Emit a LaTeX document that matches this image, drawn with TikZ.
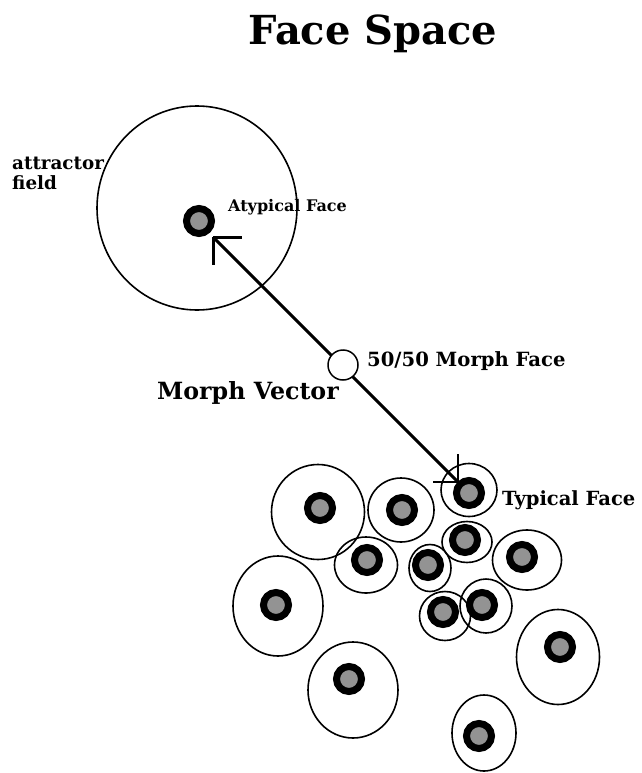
\documentclass[tikz,border=0pt]{standalone}
\usepackage{fontspec}
\setmainfont{DejaVu Serif}
\usetikzlibrary{shapes.geometric}
\begin{document}
\begin{tikzpicture}[x=1pt,y=-1pt,
  field/.style={draw, ellipse, line width=1.6pt, inner sep=0pt},
  facedot/.style={circle, draw=black, line width=7pt, fill=gray!85, minimum size=25pt, inner sep=0pt},
  shaft/.style={line width=3pt},
  lbl/.style={font=\bfseries, inner sep=0pt, anchor=west}]
\useasboundingbox (0,0) rectangle (641,773);
% title
\node[font=\fontsize{40}{48}\selectfont\bfseries, inner sep=0pt] (title) at (373,34) {Face Space};
% attractor field
\node[field, minimum width=200pt, minimum height=204pt] (attr) at (197,208) {};
\node[lbl, font=\fontsize{18.3}{20}\selectfont\bfseries, align=left, anchor=north west] (attrlbl) at (12,157) {attractor\\field};
% atypical face
\node[facedot] (atyp) at (199,221) {};
\node[lbl, font=\fontsize{16}{19}\selectfont\bfseries] (atyplbl) at (228,207) {Atypical Face};
% cluster fields
\node[field, minimum width=93pt, minimum height=95pt] (f1) at (318,512) {};
\node[field, minimum width=66pt, minimum height=64pt] (f2) at (401,510) {};
\node[field, minimum width=56pt, minimum height=53pt] (f3) at (469,490) {};
\node[field, minimum width=63pt, minimum height=56pt] (f4) at (366,565) {};
\node[field, minimum width=50pt, minimum height=41pt] (f5) at (467,542) {};
\node[field, minimum width=42pt, minimum height=47pt] (f6) at (430,568) {};
\node[field, minimum width=69pt, minimum height=60pt] (f7) at (527,560) {};
\node[field, minimum width=90pt, minimum height=100pt] (f8) at (278,606) {};
\node[field, minimum width=51pt, minimum height=49pt] (f9) at (445,616) {};
\node[field, minimum width=52pt, minimum height=54pt] (f10) at (486,606) {};
\node[field, minimum width=90pt, minimum height=96pt] (f11) at (353,690) {};
\node[field, minimum width=83pt, minimum height=95pt] (f12) at (558,657) {};
\node[field, minimum width=64pt, minimum height=76pt] (f13) at (484,733) {};
% cluster dots
\node[facedot] (d1) at (320,508) {};
\node[facedot] (d2) at (402,510) {};
\node[facedot] (typ) at (469,493) {};
\node[facedot] (d4) at (367,560) {};
\node[facedot] (d5) at (465,540) {};
\node[facedot] (d6) at (428,565) {};
\node[facedot] (d7) at (522,557) {};
\node[facedot] (d8) at (276,605) {};
\node[facedot] (d9) at (443,612) {};
\node[facedot] (d10) at (482,605) {};
\node[facedot] (d11) at (349,679) {};
\node[facedot] (d12) at (560,647) {};
\node[facedot] (d13) at (479,736) {};
\node[lbl, font=\fontsize{19.5}{23}\selectfont\bfseries] (typlbl) at (502,500) {Typical Face};
% morph vector
\coordinate (tipA) at (213,237);
\coordinate (tipT) at (458,482);
\draw[shaft] (tipA) -- (tipT);
\draw[line width=3pt] (tipA) -- ++(29,0);
\draw[line width=3pt] (tipA) -- ++(0,28);
\draw[line width=2.5pt] (tipT) -- ++(0,-28);
\draw[line width=2.5pt] (tipT) -- ++(-25,0);
\node[circle, draw, line width=1.5pt, fill=white, minimum size=30pt, inner sep=0pt] (morph) at (343,365) {};
\node[lbl, font=\fontsize{19.6}{23}\selectfont\bfseries] (morphlbl) at (367,361) {50/50 Morph Face};
\node[lbl, font=\fontsize{23.7}{28}\selectfont\bfseries] (vec) at (157,393) {Morph Vector};
\end{tikzpicture}
\end{document}
